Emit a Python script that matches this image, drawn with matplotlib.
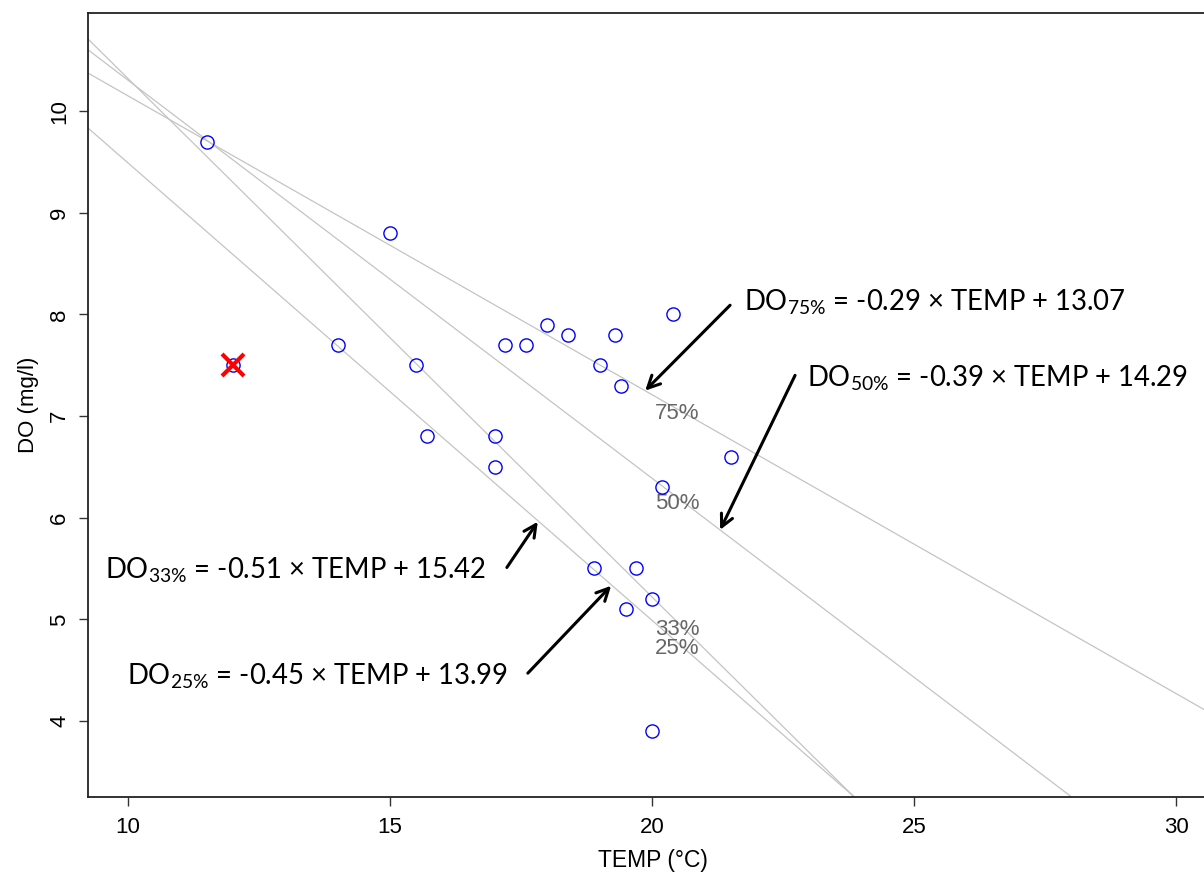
import matplotlib
matplotlib.use("Agg")
import matplotlib.pyplot as plt
import numpy as np

# ---- data ----
temp = [11.5, 15.0, 14.0, 12.0, 15.5, 15.7, 17.0, 17.0, 17.2, 17.6, 18.0, 18.4,
        19.0, 19.3, 19.4, 20.4, 21.5, 20.2, 18.9, 19.7, 20.0, 19.5, 20.0]
do = [9.7, 8.8, 7.7, 7.5, 7.5, 6.8, 6.8, 6.5, 7.7, 7.7, 7.9, 7.8,
      7.5, 7.8, 7.3, 8.0, 6.6, 6.3, 5.5, 5.5, 5.2, 5.1, 3.9]
outlier_temp = [12.0]
outlier_do = [7.5]

quantile_names = ["75%", "50%", "33%", "25%"]
slopes = [-0.294, -0.3916, -0.51, -0.45]
intercepts = [13.09, 14.22, 15.42, 13.99]

eq_labels = [r"DO$_{\mathregular{75\%}}$ = -0.29 × TEMP + 13.07",
             r"DO$_{\mathregular{50\%}}$ = -0.39 × TEMP + 14.29",
             r"DO$_{\mathregular{33\%}}$ = -0.51 × TEMP + 15.42",
             r"DO$_{\mathregular{25\%}}$ = -0.45 × TEMP + 13.99"]
eq_text_pos = [(21.75, 8.12), (22.96, 7.37), (9.57, 5.48), (9.98, 4.44)]
arrow_start = [(21.49, 8.09), (22.73, 7.40), (17.23, 5.51), (17.63, 4.47)]
arrow_end = [(19.87, 7.25), (21.30, 5.88), (17.82, 5.96), (19.22, 5.33)]

xticks = [10, 15, 20, 25, 30]
yticks = [4, 5, 6, 7, 8, 9, 10]
xlim = (9.227, 30.8)
ylim = (3.252, 10.965)

plt.rcParams["font.family"] = ["Liberation Sans", "DejaVu Sans"]

W, H = 1204, 875
fig = plt.figure(figsize=(W / 100, H / 100), dpi=100)
left = 87.5 / W
bottom = (H - 797) / H
height = (797 - 13) / H
width = (xlim[1] - xlim[0]) * 52.4 / W
ax = fig.add_axes([left, bottom, width, height])
ax.set_xlim(*xlim)
ax.set_ylim(*ylim)

# quantile regression lines
xx = np.array(xlim)
for s, b in zip(slopes, intercepts):
    ax.plot(xx, s * xx + b, color="#c4c4c4", lw=0.9, zorder=1)

# line labels
for name, s, b in zip(quantile_names, slopes, intercepts):
    ax.text(20.05, s * 20.6 + b - 0.01, name, color="#666666", fontsize=16,
            ha="left", va="center", zorder=2)

# points
ax.plot(temp, do, linestyle="none", marker="o", markersize=9.5,
        markerfacecolor="none", markeredgecolor="blue", markeredgewidth=1.0, zorder=3)
ax.plot(outlier_temp, outlier_do, linestyle="none", marker="x", markersize=16,
        markeredgecolor="red", markeredgewidth=3, zorder=4)

# equations and arrows
for lab, (tx, ty), st, en in zip(eq_labels, eq_text_pos, arrow_start, arrow_end):
    ax.text(tx, ty, lab, fontsize=19.8, family=["Lato", "DejaVu Sans"],
            ha="left", va="center", color="black", zorder=5)
    ax.annotate("", xy=en, xytext=st,
                arrowprops=dict(arrowstyle="->", color="black", lw=2.2,
                                mutation_scale=22, shrinkA=0, shrinkB=0), zorder=5)

ax.set_xticks(xticks)
ax.set_yticks(yticks)
ax.set_xticklabels([str(t) for t in xticks], fontsize=16)
ax.set_yticklabels([str(t) for t in yticks], fontsize=16, rotation=90, va="center")
ax.tick_params(axis="x", direction="out", length=6.5, width=1.0, color="#333333", pad=8)
ax.tick_params(axis="y", direction="out", length=6.5, width=1.0, color="#333333", pad=6)
for sp in ax.spines.values():
    sp.set_linewidth(1.3)
    sp.set_color("#222222")

ax.set_xlabel("TEMP (°C)", fontsize=16.5, labelpad=8)
ax.set_ylabel("DO (mg/l)", fontsize=16, labelpad=7)

fig.savefig("out.png", dpi=100)
